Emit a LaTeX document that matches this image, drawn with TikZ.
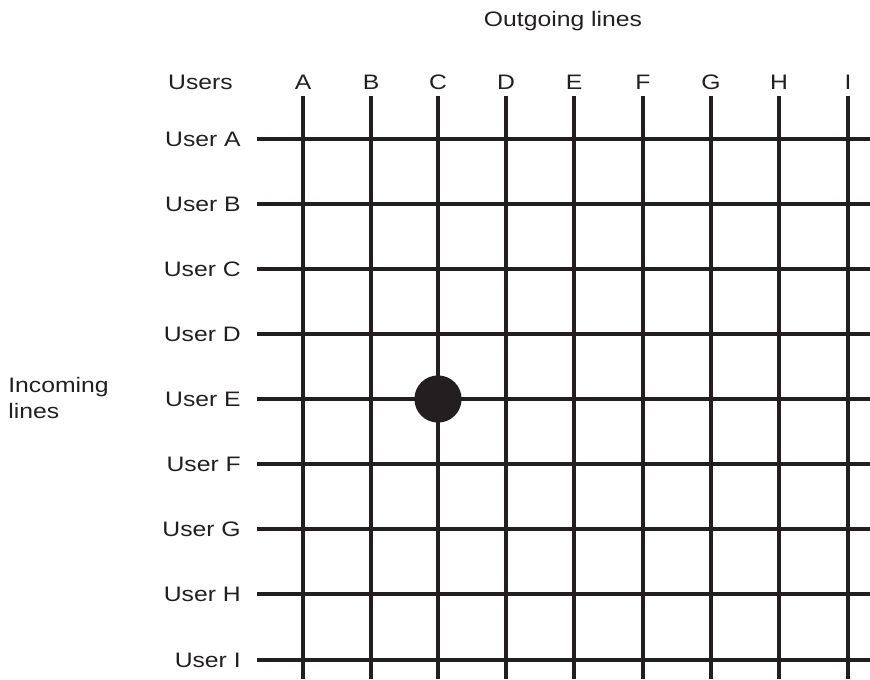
\documentclass[tikz,border=0pt]{standalone}
\usepackage{fontspec}
\setmainfont{Liberation Sans}[FakeStretch=1.18]
\usetikzlibrary{positioning}
\definecolor{ink}{RGB}{35,31,32}
\tikzset{
  lbl/.style={font=\fontsize{14.9}{18.4}\selectfont, text=ink, inner sep=0pt},
  colhead/.style={lbl, text height=0.375cm, text depth=0pt, inner ysep=0.15cm},
  rowhead/.style={lbl, anchor=east, text height=0.375cm, text depth=0pt, inner xsep=0.4cm},
  wire/.style={draw=ink, line width=2.4pt},
  crosspoint/.style={circle, fill=ink, minimum size=1.18cm, inner sep=0pt},
}
\begin{document}
\begin{tikzpicture}[x=0.025cm, y=-0.025cm]
  \useasboundingbox (0,0) rectangle (870,679);
  \node[lbl, anchor=base] (outgoing) at (563,26) {Outgoing lines};
  \node[lbl, anchor=base west, align=left] (incoming) at (8,418) {Incoming\\lines};
  \node[lbl, anchor=base east] (users) at (233,89) {Users};

  % outgoing lines (columns)
  \foreach \c/\x in {A/303, B/371, C/438, D/506, E/574, F/643, G/711, H/779, I/848} {
    \node[colhead] (col\c) at (\x,82) {\c};
    \coordinate (bot\c) at (\x,679);
    \draw[wire] (col\c.south) -- (bot\c);
  }

  % incoming lines (rows)
  \foreach \r/\y in {A/139, B/204, C/269, D/334, E/399, F/464, G/529, H/594, I/660} {
    \node[rowhead] (row\r) at (257,\y) {User \r};
    \coordinate (end\r) at (870,\y);
    \draw[wire] (row\r.east) -- (end\r);
  }

  \node[crosspoint] (switch) at (colC |- rowE) {};
\end{tikzpicture}
\end{document}
